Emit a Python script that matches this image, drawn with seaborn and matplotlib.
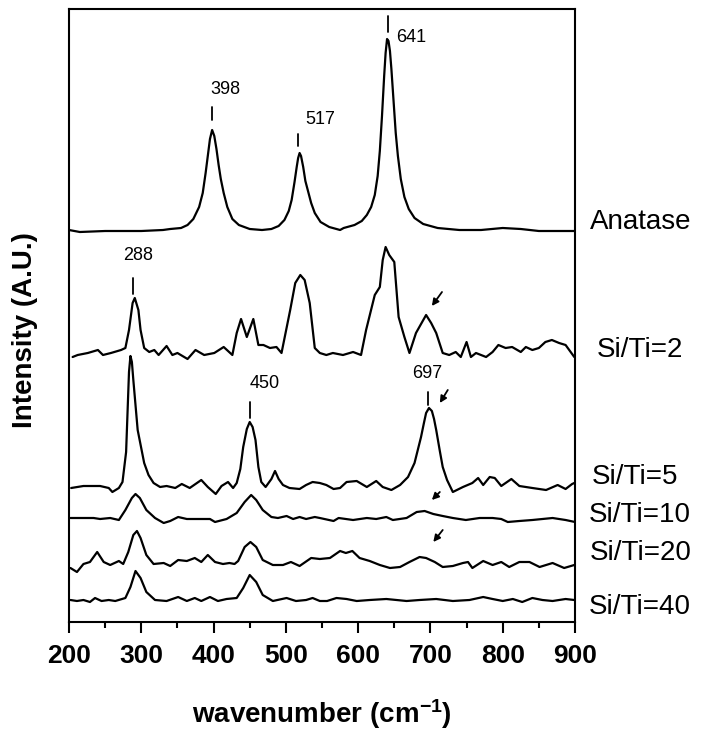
import numpy as np
import pandas as pd
import matplotlib
matplotlib.use("Agg")
import matplotlib.pyplot as plt
import seaborn as sns

# ---------------- data ----------------
# each spectrum: (wavenumber cm-1, intensity above its own baseline, a.u.)
sample_names = ["Anatase", "Si/Ti=2", "Si/Ti=5", "Si/Ti=10", "Si/Ti=20", "Si/Ti=40"]
stack_offsets = [391, 267, 135, 103, 57, 22]

anatase_points = [
    (200, 1), (215, -1), (250, 0), (300, 0), (330, 1), (340, 2), (355, 3), (364, 6),
    (372, 12), (380, 24), (385, 38), (389, 58), (392, 75), (395, 92), (398, 101),
    (401, 95), (404, 82), (407, 66), (410, 52), (414, 38), (419, 24), (426, 12),
    (435, 6), (450, 2), (467, 1), (480, 2), (490, 5), (498, 11), (504, 20), (508, 31),
    (512, 49), (515, 64), (517, 73), (519, 78), (521, 75), (524, 64), (527, 50),
    (531, 39), (535, 28), (540, 18), (548, 9), (560, 4), (575, 1), (580, 3), (595, 6),
    (605, 10), (612, 16), (618, 24), (623, 36), (627, 55), (630, 80), (633, 115),
    (636, 155), (638, 178), (640, 192), (642, 190), (644, 180), (646, 162), (649, 130),
    (652, 98), (655, 75), (659, 52), (664, 34), (670, 22), (678, 13), (690, 7),
    (710, 3), (740, 1), (770, 1), (800, 3), (825, 2), (850, 0), (900, 0)]

siti2_points = [
    (205, -2), (212, 0), (226, 2), (240, 5), (247, 0), (258, 2), (272, 5), (278, 7),
    (283, 25), (288, 52), (291, 57), (296, 45), (299, 25), (304, 7), (311, 3), (318, 5),
    (324, 0), (335, 9), (343, 0), (350, 2), (364, -4), (375, 5), (387, 0), (401, 2),
    (414, 8), (426, 0), (432, 22), (438, 36), (446, 18), (455, 36), (462, 10), (469, 10),
    (478, 7), (487, 8), (494, 2), (506, 45), (513, 72), (520, 80), (526, 75), (533, 52),
    (540, 7), (547, 2), (556, 0), (565, 2), (579, 0), (593, 3), (604, 0), (611, 25),
    (623, 60), (630, 68), (634, 95), (638, 108), (643, 100), (650, 93), (656, 38),
    (664, 18), (671, 2), (680, 22), (694, 40), (701, 32), (708, 22), (717, 2), (726, 0),
    (735, 3), (742, -2), (750, 13), (756, -2), (763, 2), (777, -2), (786, 3), (794, 10),
    (804, 7), (813, 8), (825, 3), (832, 8), (841, 5), (850, 7), (859, 13), (868, 15),
    (878, 12), (887, 10), (899, -2)]

siti5_points = [
    (203, -1), (220, 1), (243, 1), (255, -1), (260, -5), (269, -1), (274, 5), (279, 35),
    (283, 115), (285, 131), (287, 125), (289, 107), (295, 57), (304, 24), (310, 12),
    (317, 4), (326, 0), (335, 1), (347, -1), (356, 3), (367, -1), (383, 7), (392, 0),
    (403, -7), (411, 1), (420, 5), (427, -1), (432, 4), (437, 18), (441, 40), (446, 58),
    (450, 65), (454, 60), (458, 47), (462, 20), (466, 5), (472, 0), (480, 8), (485, 16),
    (490, 8), (496, 2), (505, -1), (519, -2), (528, 2), (537, 5), (547, 4), (556, 2),
    (566, -2), (575, -1), (584, 5), (598, 6), (612, 0), (625, 6), (634, 0), (646, -3),
    (658, 2), (669, 10), (678, 24), (687, 50), (691, 64), (694, 74), (698, 79), (702, 76),
    (705, 68), (708, 57), (713, 36), (717, 20), (723, 7), (731, -5), (745, 0), (758, 4),
    (766, 9), (773, 2), (782, 10), (789, 9), (798, 1), (812, 8), (823, 1), (841, -1),
    (860, -3), (876, 2), (887, -2), (896, 3), (899, 4)]

siti10_points = [
    (202, 1), (216, 1), (225, 1), (234, 1), (243, 0), (257, 1), (269, -1), (278, 9),
    (287, 21), (292, 25), (298, 21), (307, 9), (319, 1), (331, -4), (340, -2), (351, 2),
    (363, 0), (381, 0), (395, 0), (402, -3), (418, 0), (432, 6), (443, 17), (452, 24),
    (459, 19), (468, 9), (480, 2), (489, 1), (501, 3), (510, 0), (519, 2), (528, 0),
    (540, 2), (547, 1), (566, -2), (573, 1), (593, -1), (612, 1), (625, 0), (639, 2),
    (648, -1), (667, 1), (681, 7), (692, 8), (704, 5), (717, 3), (731, 1), (749, -1),
    (768, 1), (786, 1), (798, 0), (807, -3), (823, -2), (841, -1), (869, 1), (887, -1),
    (900, -3)]

siti20_points = [
    (202, -3), (211, -7), (220, 1), (229, 3), (239, 13), (248, 3), (257, 0), (269, 4),
    (275, 1), (282, 13), (289, 30), (294, 34), (299, 27), (307, 10), (317, 1), (331, 2),
    (340, -1), (351, 5), (363, 4), (374, 7), (383, 3), (392, 10), (402, 3), (413, 1),
    (422, 2), (429, 1), (434, 4), (443, 18), (451, 23), (459, 18), (468, 5), (482, 0),
    (496, 0), (507, 3), (519, -1), (535, 7), (547, 6), (561, 7), (575, 14), (583, 12),
    (592, 14), (602, 7), (616, 4), (630, 0), (644, -3), (658, -2), (671, 3), (685, 8),
    (694, 7), (706, 3), (717, -2), (731, -1), (745, 2), (752, 3), (758, -3), (773, 4),
    (786, 0), (798, 3), (809, -2), (823, 3), (837, 3), (851, -2), (869, 2), (885, -3),
    (899, 0)]

siti40_points = [
    (202, 0), (211, -1), (220, 0), (229, -2), (236, 2), (245, -1), (255, 0), (264, -1),
    (278, 2), (285, 13), (292, 29), (299, 22), (307, 8), (319, 0), (335, -1), (351, 3),
    (363, -1), (374, 2), (383, -1), (395, 3), (406, -1), (418, 1), (432, 2), (441, 12),
    (450, 25), (459, 18), (468, 5), (482, -1), (501, 2), (514, -1), (528, 0), (537, 2),
    (547, -1), (557, -1), (570, 2), (584, 1), (598, -1), (616, 0), (639, 1), (667, -1),
    (685, 0), (708, 1), (731, -1), (754, 0), (773, 3), (786, 1), (800, -1), (814, 1),
    (827, -2), (841, 2), (855, 0), (869, -1), (887, 1), (899, 0)]

spectra_points = [anatase_points, siti2_points, siti5_points,
                  siti10_points, siti20_points, siti40_points]

anatase_peaks = [398, 517, 641]
silica_peaks = [288, 450, 697]

# ---------------- build table ----------------
frames = []
for name, off, pts in zip(sample_names, stack_offsets, spectra_points):
    arr = np.asarray(pts, float)
    frames.append(pd.DataFrame({"wavenumber": arr[:, 0],
                                "intensity": arr[:, 1] + off,
                                "sample": name}))
df = pd.concat(frames, ignore_index=True)

# ---------------- style ----------------
sns.set_style("ticks")
plt.rcParams["font.family"] = ["Liberation Sans", "DejaVu Sans"]
plt.rcParams["mathtext.fontset"] = "custom"
plt.rcParams["mathtext.rm"] = "Liberation Sans:bold"
plt.rcParams["mathtext.default"] = "rm"
plt.rcParams["text.color"] = "black"
plt.rcParams["axes.labelcolor"] = "black"
plt.rcParams["xtick.color"] = "black"
plt.rcParams["ytick.color"] = "black"
plt.rcParams["axes.edgecolor"] = "black"

fig = plt.figure(figsize=(7.01, 7.33), dpi=100)
ax = fig.add_axes([69 / 701, 1 - 622 / 733, 506 / 701, 613 / 733])

sns.lineplot(data=df, x="wavenumber", y="intensity", units="sample", estimator=None,
             color="black", linewidth=1.6, sort=False, ax=ax, legend=False)

ax.set_xlim(200, 900)
ax.set_ylim(0, 613)
ax.set_xticks(np.arange(200, 901, 100))
ax.set_xticks(np.arange(250, 900, 100), minor=True)
ax.set_yticks([])
ax.tick_params(axis="x", which="major", direction="out", length=8, width=1.5,
               labelsize=19, pad=8, colors="black")
ax.tick_params(axis="x", which="minor", direction="out", length=4.5, width=1.5,
               colors="black")
for lab in ax.get_xticklabels():
    lab.set_fontweight("bold")
for sp in ax.spines.values():
    sp.set_linewidth(1.5)
    sp.set_color("black")

ax.set_xlabel("wavenumber (cm$^{-1}$)", fontsize=20, fontweight="bold", color="black")
ax.set_ylabel("Intensity (A.U.)", fontsize=20, fontweight="bold", color="black")
ax.xaxis.set_label_coords(0.5, -0.122)
ax.yaxis.set_label_coords(-0.062, 0.477)

# sample labels on the right
label_x = [921, 930, 923, 919, 921, 919]
label_y = [400, 272, 145, 107, 69, 15]
for name, lx, ly in zip(sample_names, label_x, label_y):
    ax.text(lx, ly, name, fontsize=20, ha="left", va="center", clip_on=False,
            color="black")

# peak markers and numbers
marker_spans = {398: (502, 515), 517: (476, 488), 641: (590, 606),
                288: (328, 344), 450: (204, 220), 697: (217, 230)}
number_pos = {398: (416, 532, "center"), 517: (547, 503, "center"),
              641: (653, 585, "left"), 288: (295, 366, "center"),
              450: (471, 238, "center"), 697: (696, 249, "center")}
for pk in anatase_peaks + silica_peaks:
    y0, y1 = marker_spans[pk]
    ax.plot([pk, pk], [y0, y1], color="black", lw=1.3)
    tx, ty, ha = number_pos[pk]
    ax.text(tx, ty, str(pk), fontsize=13, ha=ha, va="center", color="black")

# arrows pointing at the weak ~700 cm-1 band
arrows = [((716, 330), (702, 316)), ((724, 232), (713, 219)),
          ((713, 130), (702, 122)), ((717, 92), (704, 80))]
for start, end in arrows:
    ax.annotate("", xy=end, xytext=start,
                arrowprops=dict(arrowstyle="-|>", color="black", lw=1.3,
                                mutation_scale=10, shrinkA=0, shrinkB=0))

fig.savefig("out.png", dpi=100)
